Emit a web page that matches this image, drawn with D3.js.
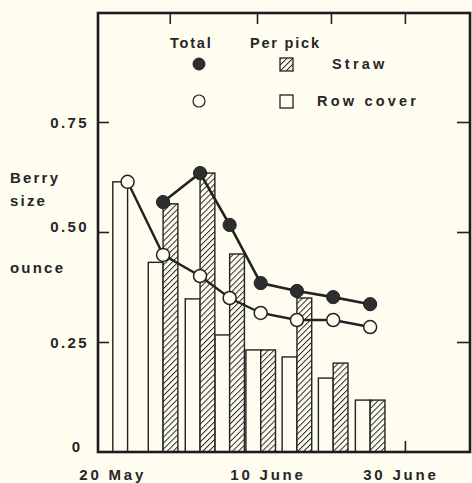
<!DOCTYPE html>
<html>
<head>
<meta charset="utf-8">
<script src="https://cdn.jsdelivr.net/npm/d3@7"></script>
<style>
  html, body { margin: 0; padding: 0; background: #fefdf0; }
  svg { display: block; }
  text { font-family: "Liberation Sans", Arial, Helvetica, sans-serif; font-weight: bold; fill: #262626; }
</style>
</head>
<body>
<script>
// ---- data (days after 20 May) ----
const pickDay          = [3.5, 8.3, 13.3, 17.3, 21.5, 26.4, 31.3, 36.3];
const rowCoverPerPick  = [0.614, 0.431, 0.348, 0.266, 0.232, 0.216, 0.168, 0.118];
const strawPerPick     = [null, 0.564, 0.634, 0.450, 0.232, 0.350, 0.202, 0.118];
const strawTotal       = [null, 0.568, 0.634, 0.516, 0.384, 0.366, 0.352, 0.336];
const rowCoverTotal    = [0.614, 0.448, 0.400, 0.350, 0.316, 0.300, 0.300, 0.284];
const xTickDays        = [9.2, 21, 31, 41];
const xLabelDays       = [0, 21, 41];
const xLabels          = ["20 May", "10 June", "30 June"];
const yTicks           = [0, 0.25, 0.5, 0.75];
const yTickLabels      = ["0", "0.25", "0.50", "0.75"];
const yTitle           = ["Berry", "size", "ounce"];
const legendHeads      = ["Total", "Per pick"];
const seriesNames      = ["Straw", "Row cover"];

const W = 472, H = 483;
const ink = "#222";
const paper = "#fefdf0";
const svg = d3.select("body").append("svg").attr("width", W).attr("height", H);

const defs = svg.append("defs");
const pat = defs.append("pattern").attr("id", "hatch").attr("patternUnits", "userSpaceOnUse")
  .attr("width", 4.2).attr("height", 4.2).attr("patternTransform", "rotate(45)");
pat.append("rect").attr("width", 4.2).attr("height", 4.2).attr("fill", paper);
pat.append("line").attr("x1", 0).attr("y1", 0).attr("x2", 0).attr("y2", 4.2)
  .attr("stroke", ink).attr("stroke-width", 1.9);

const x = d3.scaleLinear().domain([-0.5, 49.8]).range([98, 470]);
const y = d3.scaleLinear().domain([0, 1]).range([452, 12]);
const barW = x(2) - x(0);

// ticks (inward) via axes
const tickLen = 11;
const styleTicks = g => { g.select(".domain").remove(); g.selectAll("line").attr("stroke", ink).attr("stroke-width", 1.6); };
svg.append("g").attr("transform", `translate(0,${y(1) + 1})`)
  .call(d3.axisBottom(x).tickValues(xTickDays).tickSize(tickLen).tickFormat("")).call(styleTicks);
svg.append("g").attr("transform", `translate(0,${y(0)})`)
  .call(d3.axisTop(x).tickValues(xTickDays).tickSize(tickLen).tickFormat("")).call(styleTicks);
svg.append("g").attr("transform", `translate(${x.range()[0]},0)`)
  .call(d3.axisRight(y).tickValues(yTicks.slice(1)).tickSize(tickLen).tickFormat("")).call(styleTicks);
svg.append("g").attr("transform", `translate(${x.range()[1]},0)`)
  .call(d3.axisLeft(y).tickValues(yTicks.slice(1)).tickSize(tickLen + 2).tickFormat("")).call(styleTicks);

// bars
const groups = pickDay.map((d, i) => ({ d, rc: rowCoverPerPick[i], st: strawPerPick[i] }));
svg.append("g").selectAll("rect").data(groups).join("rect")
  .attr("x", g => x(g.d) - barW).attr("width", barW)
  .attr("y", g => y(g.rc)).attr("height", g => y(0) - y(g.rc))
  .attr("fill", paper).attr("stroke", ink).attr("stroke-width", 1.4);
svg.append("g").selectAll("rect").data(groups.filter(g => g.st != null)).join("rect")
  .attr("x", g => x(g.d)).attr("width", barW)
  .attr("y", g => y(g.st)).attr("height", g => y(0) - y(g.st))
  .attr("fill", "url(#hatch)").attr("stroke", ink).attr("stroke-width", 1.4);

// lines
const line = d3.line().defined(p => p[1] != null).x(p => x(p[0])).y(p => y(p[1]));
const stPts = pickDay.map((d, i) => [d, strawTotal[i]]);
const rcPts = pickDay.map((d, i) => [d, rowCoverTotal[i]]);
svg.append("path").attr("d", line(rcPts)).attr("fill", "none").attr("stroke", ink).attr("stroke-width", 2.4);
svg.append("path").attr("d", line(stPts)).attr("fill", "none").attr("stroke", ink).attr("stroke-width", 2.6);
svg.append("g").selectAll("circle").data(rcPts).join("circle")
  .attr("cx", p => x(p[0])).attr("cy", p => y(p[1])).attr("r", 6.5)
  .attr("fill", paper).attr("stroke", ink).attr("stroke-width", 1.5);
svg.append("g").selectAll("circle").data(stPts.filter(p => p[1] != null)).join("circle")
  .attr("cx", p => x(p[0])).attr("cy", p => y(p[1])).attr("r", 6.6)
  .attr("fill", "#2e2e2e").attr("stroke", ink).attr("stroke-width", 1);

// frame
svg.append("rect").attr("x", x.range()[0]).attr("y", y(1) + 1)
  .attr("width", x.range()[1] - x.range()[0]).attr("height", y(0) - y(1) - 1)
  .attr("fill", "none").attr("stroke", "#1c1c1c").attr("stroke-width", 2.6);

// y tick labels
svg.append("g").selectAll("text").data(yTicks).join("text")
  .attr("x", (d, i) => i === 0 ? 77 : 89).attr("y", d => y(d) + (d === 0.5 ? -6 : 0) + (d === 0 ? -6 : 0))
  .attr("text-anchor", (d, i) => i === 0 ? "middle" : "end")
  .attr("dominant-baseline", "central")
  .style("font-size", "15px").style("letter-spacing", "2.4px")
  .text((d, i) => yTickLabels[i]);

// y title
const titleY = [177, 200, 267];
svg.append("g").selectAll("text").data(yTitle).join("text")
  .attr("x", 10).attr("y", (d, i) => titleY[i]).attr("dominant-baseline", "central")
  .style("font-size", "15px").style("letter-spacing", "2.2px").text(d => d);

// x labels
const xdx = [11, 11, -4];
svg.append("g").selectAll("text").data(xLabelDays).join("text")
  .attr("x", (d, i) => x(d) + xdx[i]).attr("y", 474).attr("text-anchor", "middle")
  .attr("dominant-baseline", "central")
  .style("font-size", "15px").style("letter-spacing", "2.8px")
  .text((d, i) => xLabels[i]);

// legend
const lg = svg.append("g");
lg.append("text").attr("x", 170).attr("y", 48).style("font-size", "14.5px").style("letter-spacing", "1.8px").text(legendHeads[0]);
lg.append("text").attr("x", 250).attr("y", 48).style("font-size", "14.5px").style("letter-spacing", "1.8px").text(legendHeads[1]);
lg.append("circle").attr("cx", 199).attr("cy", 64).attr("r", 6).attr("fill", "#2e2e2e").attr("stroke", ink);
lg.append("rect").attr("x", 280).attr("y", 58).attr("width", 13).attr("height", 13)
  .attr("fill", "url(#hatch)").attr("stroke", ink).attr("stroke-width", 1.3);
lg.append("text").attr("x", 332).attr("y", 69).style("font-size", "14.5px").style("letter-spacing", "3.2px").text(seriesNames[0]);
lg.append("circle").attr("cx", 199).attr("cy", 101).attr("r", 6).attr("fill", paper).attr("stroke", ink).attr("stroke-width", 1.2);
lg.append("rect").attr("x", 280).attr("y", 95).attr("width", 13).attr("height", 13)
  .attr("fill", paper).attr("stroke", ink).attr("stroke-width", 1.3);
lg.append("text").attr("x", 317).attr("y", 106).style("font-size", "14.5px").style("letter-spacing", "3.2px").text(seriesNames[1]);
</script>
</body>
</html>
